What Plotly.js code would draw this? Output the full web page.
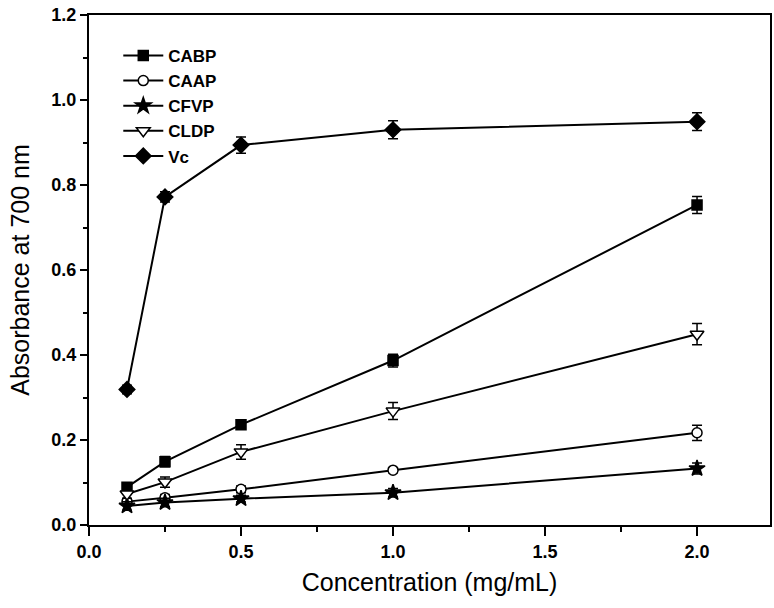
<!DOCTYPE html>
<html>
<head>
<meta charset="utf-8">
<script src="https://cdn.plot.ly/plotly-3.0.1.min.js"></script>
<style>html,body{margin:0;padding:0;background:#fff;}#chart{width:774px;height:608px;}</style>
</head>
<body>
<div id="chart"></div>
<script>
const concentration = [0.125, 0.25, 0.5, 1.0, 2.0];
const seriesNames = ["CABP", "CAAP", "CFVP", "CLDP", "Vc"];
const CABP = [0.089, 0.149, 0.236, 0.387, 0.753];
const CABP_err = [0.008, 0.012, 0.008, 0.015, 0.02];
const CAAP = [0.055, 0.064, 0.084, 0.129, 0.217];
const CAAP_err = [0.006, 0.008, 0.008, 0.006, 0.018];
const CFVP = [0.045, 0.053, 0.062, 0.076, 0.133];
const CFVP_err = [0.01, 0.01, 0.008, 0.01, 0.013];
const CLDP = [0.073, 0.101, 0.172, 0.268, 0.449];
const CLDP_err = [0.01, 0.012, 0.017, 0.02, 0.025];
const Vc = [0.319, 0.772, 0.894, 0.93, 0.949];
const Vc_err = [0.01, 0.012, 0.019, 0.021, 0.021];
const xTickVals = [0, 0.5, 1.0, 1.5, 2.0];
const xTickText = ["0.0", "0.5", "1.0", "1.5", "2.0"];
const yTickVals = [0, 0.2, 0.4, 0.6, 0.8, 1.0, 1.2];
const yTickText = ["0.0", "0.2", "0.4", "0.6", "0.8", "1.0", "1.2"];

const values = [CABP, CAAP, CFVP, CLDP, Vc];
const errors = [CABP_err, CAAP_err, CFVP_err, CLDP_err, Vc_err];
const styles = [
  {symbol: "square", color: "black", size: 10},
  {symbol: "circle", color: "white", size: 10},
  {symbol: "star", color: "black", size: 12},
  {symbol: "triangle-down", color: "white", size: 12},
  {symbol: "diamond", color: "black", size: 12}
];
const font = "Arial, 'Liberation Sans', sans-serif";

const traces = seriesNames.map((name, i) => ({
  type: "scatter",
  mode: "lines+markers",
  name: name,
  x: concentration,
  y: values[i],
  error_y: {type: "data", array: errors[i], visible: true, color: "black", thickness: 1.5, width: 5},
  line: {color: "black", width: 2},
  marker: {symbol: styles[i].symbol, size: styles[i].size, color: styles[i].color,
           line: {color: "black", width: 1.5}}
}));

const layout = {
  width: 774, height: 608,
  margin: {l: 89, r: 4, t: 15, b: 83},
  paper_bgcolor: "white", plot_bgcolor: "white",
  showlegend: true,
  legend: {x: 0.043, y: 0.955, xanchor: "left", yanchor: "top",
           font: {family: font, size: 17, color: "black", weight: "bold"},
           bgcolor: "rgba(0,0,0,0)", tracegroupgap: 0, itemwidth: 40},
  xaxis: {
    range: [0, 2.24], showgrid: false, zeroline: false,
    showline: true, linecolor: "black", linewidth: 2, mirror: true,
    ticks: "outside", ticklen: 9, tickwidth: 2, tickcolor: "black",
    tickvals: xTickVals, ticktext: xTickText,
    minor: {ticks: "outside", ticklen: 5, tickwidth: 2, tickcolor: "black", dtick: 0.25, tick0: 0},
    tickfont: {family: font, size: 18, color: "black", weight: "bold"},
    title: {text: "Concentration (mg/mL)", font: {family: font, size: 25, color: "black"}, standoff: 13}
  },
  yaxis: {
    range: [0, 1.2], showgrid: false, zeroline: false,
    showline: true, linecolor: "black", linewidth: 2, mirror: true,
    ticks: "outside", ticklen: 7, tickwidth: 2, tickcolor: "black",
    tickvals: yTickVals, ticktext: yTickText,
    minor: {ticks: "outside", ticklen: 4, tickwidth: 2, tickcolor: "black", dtick: 0.1, tick0: 0},
    tickfont: {family: font, size: 18, color: "black", weight: "bold"},
    title: {text: "Absorbance at 700 nm", font: {family: font, size: 25, color: "black"}, standoff: 15}
  }
};

Plotly.newPlot("chart", traces, layout, {displayModeBar: false, staticPlot: true});
</script>
</body>
</html>
